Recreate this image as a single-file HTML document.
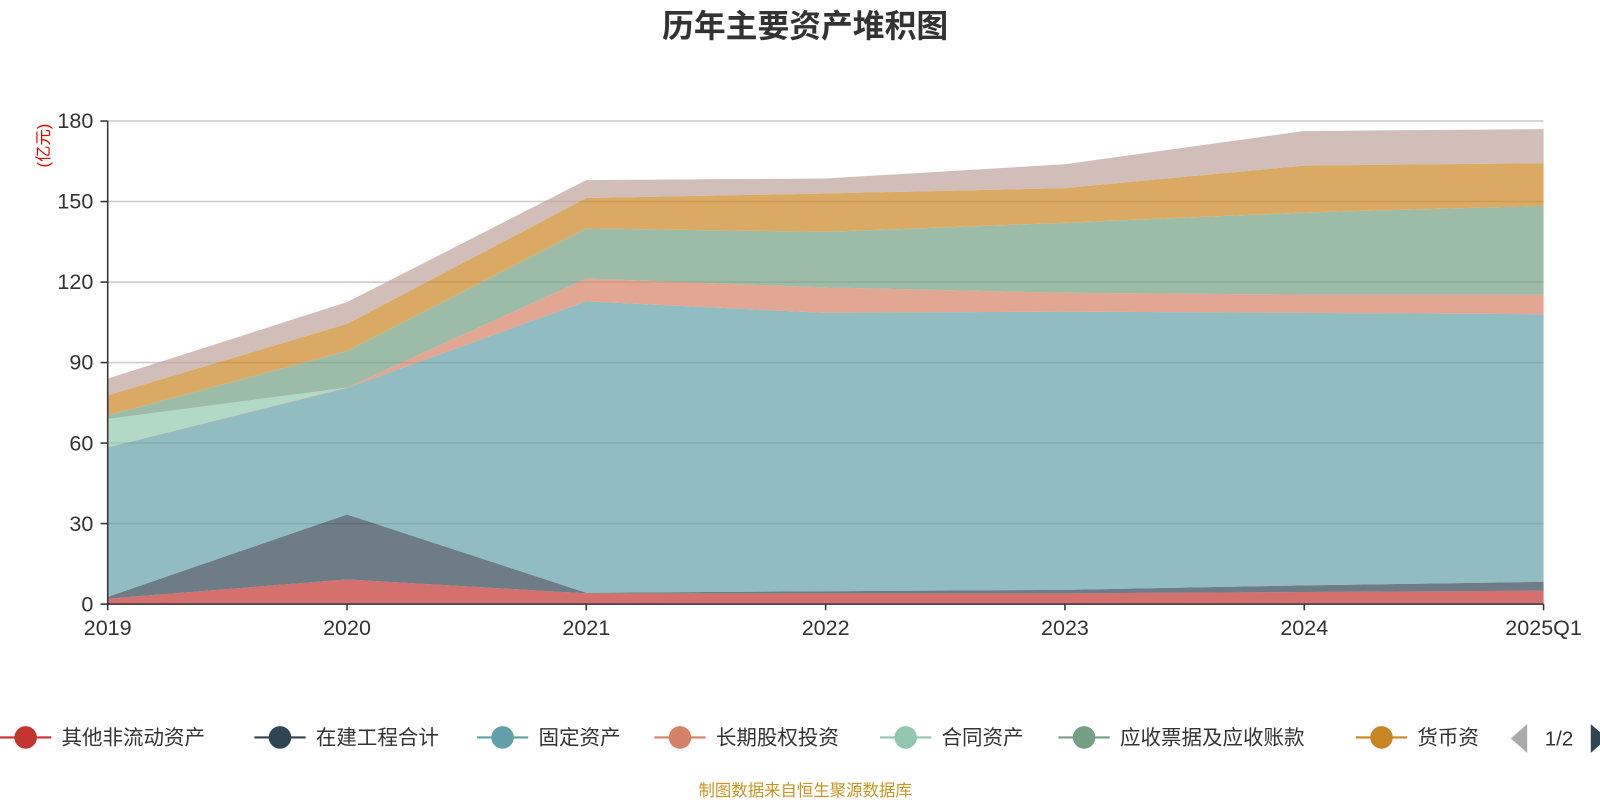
<!DOCTYPE html>
<html><head><meta charset="utf-8">
<style>
body{margin:0;background:#fff;width:1600px;height:800px;overflow:hidden;font-family:"Liberation Sans","Noto Sans CJK SC",sans-serif;}
</style></head>
<body>
<svg id="chart" width="1600" height="800" xmlns="http://www.w3.org/2000/svg">
<g transform="scale(1.02564)">
<text x="785" y="36" text-anchor="middle" font-size="31" font-weight="bold" fill="#333" font-family="Liberation Sans,Noto Sans CJK SC,sans-serif">历年主要资产堆积图</text>
<text transform="translate(48,142) rotate(-90)" text-anchor="middle" font-size="16" fill="#e00" font-family="Liberation Sans,Noto Sans CJK SC,sans-serif">(亿元)</text>
<g id="grid"></g><g id="areas"></g><g id="axes"></g><g id="legend"></g>
<text x="785" y="776" text-anchor="middle" font-size="16" fill="#c8951e" font-family="Liberation Sans,Noto Sans CJK SC,sans-serif">制图数据来自恒生聚源数据库</text>
</g>
</svg>
<script>
const categories=["2019","2020","2021","2022","2023","2024","2025Q1"];
const yTicks=[0,30,60,90,120,150,180];
const seriesNames=["其他非流动资产","在建工程合计","固定资产","长期股权投资","合同资产","应收票据及应收账款","货币资金","存货"];
const otherNonCurrent=[2,9.2,4,4,4,4.5,5];
const construction=[0.7,24.2,0.2,0.8,1.3,2.5,3.3];
const fixedAssets=[55.7,47.1,108.6,103.7,103.7,101.5,99.7];
const longTermEquity=[0,0.2,8.5,9.5,7,6.8,7.3];
const contractAssets=[10.6,0,0,0,0,0,0];
const receivables=[1.3,13.6,18.7,20.7,26.1,30.6,33.1];
const cash=[7.5,10.1,11.3,14.3,12.9,17.5,15.9];
const inventory=[6.2,8.1,6.7,5.6,8.9,12.9,12.7];
const series=[otherNonCurrent,construction,fixedAssets,longTermEquity,contractAssets,receivables,cash,inventory];
const colors=["#c23531","#2f4554","#61a0a8","#d48265","#91c7ae","#749f83","#ca8622","#bda29a"];
const X0=105,X1=1505,Y0=589,Y1=118,YMAX=180;
const xs=i=>X0+(X1-X0)*i/(categories.length-1);
const ys=v=>Y0-(Y0-Y1)*v/YMAX;
const NS="http://www.w3.org/2000/svg";
function mk(tag,attrs,parent){const e=document.createElementNS(NS,tag);for(const k in attrs)e.setAttribute(k,attrs[k]);parent.appendChild(e);return e;}
const grid=document.getElementById('grid'),areas=document.getElementById('areas'),axes=document.getElementById('axes'),legend=document.getElementById('legend');
yTicks.forEach(t=>{
 if(t>0){const l=mk('line',{x1:X0,x2:X1,y1:ys(t),y2:ys(t),stroke:'#ccc','stroke-width':1.5},grid);
 
 }
 const tk=mk('line',{x1:X0-7,x2:X0,y1:ys(t),y2:ys(t),stroke:'#333','stroke-width':1.5},axes);
 
 
 const tx=mk('text',{x:X0-14,y:ys(t)+7,'text-anchor':'end','font-size':21,fill:'#333'},axes);tx.textContent=t;
 
 
});
let base=categories.map(()=>0);
series.forEach((s,si)=>{
 const top=base.map((b,i)=>b+s[i]);
 let d='';
 top.forEach((v,i)=>{d+=(i?'L':'M')+xs(i)+','+ys(v);});
 for(let i=base.length-1;i>=0;i--)d+='L'+xs(i)+','+ys(base[i]);
 const p=mk('path',{d:d+'Z',fill:colors[si],'fill-opacity':0.7,stroke:'none'},areas);
 
 
 base=top;
});
const ax=mk('line',{x1:X0,x2:X1,y1:Y0,y2:Y0,stroke:'#333','stroke-width':1.5},axes);


const ay=mk('line',{x1:X0,x2:X0,y1:Y0,y2:Y1,stroke:'#333','stroke-width':1.5},axes);


categories.forEach((c,i)=>{
 const tk=mk('line',{x1:xs(i),x2:xs(i),y1:Y0,y2:Y0+6,stroke:'#333','stroke-width':1.5},axes);
 
 
 const tx=mk('text',{x:xs(i),y:Y0+30,'text-anchor':'middle','font-size':21,fill:'#333'},axes);tx.textContent=c;
 
 
});
const lx=[0,248,465,638,858,1032,1322];
const lnames=["其他非流动资产","在建工程合计","固定资产","长期股权投资","合同资产","应收票据及应收账款","货币资"];
lnames.forEach((n,i)=>{
 const g=mk('g',{},legend);
 
 
 mk('line',{x1:lx[i],x2:lx[i]+50,y1:719,y2:719,stroke:colors[i],'stroke-width':2},g);
 mk('circle',{cx:lx[i]+25,cy:719,r:11,fill:colors[i]},g);
 const t=mk('text',{x:lx[i]+60,y:726,'font-size':20,fill:'#333'},g);t.textContent=n;
});
const pl=mk('path',{d:'M1489,706 L1489,734 L1473,720 Z',fill:'#aaa'},legend);


const pt=mk('text',{x:1520,y:727,'text-anchor':'middle','font-size':20,fill:'#333'},legend);pt.textContent='1/2';


const pn=mk('path',{d:'M1551,706 L1551,734 L1567,720 Z',fill:'#2f4554'},legend);


</script>
</body></html>
